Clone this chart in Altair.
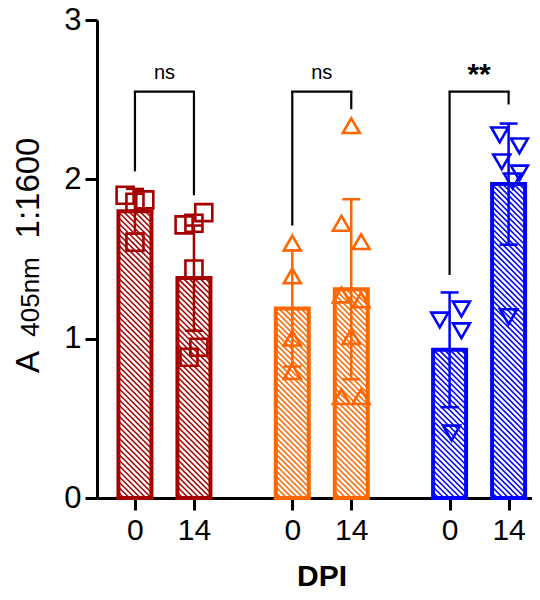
import altair as alt
import pandas as pd

# ---------------- data ----------------
groups = ["g1", "g2", "g3"]
dpi_labels = ["0", "14"]
colors = ["#A50000", "#FF6600", "#0000FF"]
shapes = ["square", "triangle-up", "triangle-down"]

# bar means and SD (per group, per DPI)
bar_means = [1.80, 1.38, 1.19, 1.31, 0.93, 1.97]
bar_sds = [0.14, 0.33, 0.365, 0.565, 0.36, 0.38]

# individual points
pts_g1_0 = [1.90, 1.856, 1.871, 1.605]
pts_g1_14 = [1.714, 1.724, 1.791, 1.437, 0.946, 0.883]
pts_g2_0 = [1.60, 1.394, 1.003, 0.793]
pts_g2_14 = [2.337, 1.724, 1.609, 1.274, 1.243, 1.013, 0.636, 0.636]
pts_g3_0 = [1.117, 1.186, 1.05, 0.408]
pts_g3_14 = [2.279, 2.21, 2.11, 2.04, 1.99, 1.138]

# horizontal scatter of the points (fraction of a symbol width)
spr_g1_0 = [-0.5, 0.0, 0.5, 0.0]
spr_g1_14 = [-0.5, 0.0, 0.5, 0.0, 0.25, -0.25]
spr_g2_0 = [0.0, 0.0, 0.0, 0.0]
spr_g2_14 = [0.0, -0.5, 0.5, -0.5, 0.5, 0.0, -0.5, 0.5]
spr_g3_0 = [-0.5, 0.6, 0.6, 0.1]
spr_g3_14 = [-0.45, 0.55, -0.35, 0.55, 0.2, 0.0]

# significance brackets
br_left_end = [2.05, 1.71, 1.40]
br_right_end = [1.90, 2.44, 2.47]
br_top = [2.55, 2.55, 2.55]
br_labels = ["ns", "ns", "**"]
br_label_y = [2.67, 2.67, 2.655]

# ---------------- layout constants ----------------
W, H = 435, 478
GSTEP, DSTEP = 8, 3
XMIN, XMAX = -1.93, 20.19
SY = H / 3.0
SX = W / (XMAX - XMIN)
HW = 16.5          # half bar width, px
DV = 5.5 / SY      # hatch spacing in y units
CAP = 18           # error bar cap width, px
FONT = "Liberation Sans"

rows = []
for gi, g in enumerate(groups):
    for di, d in enumerate(dpi_labels):
        k = gi * 2 + di
        rows.append(dict(group=g, gi=gi, di=di, mean=bar_means[k], sd=bar_sds[k]))
bars_df = pd.DataFrame(rows)

pt_sets = [
    (0, 0, pts_g1_0, spr_g1_0), (0, 1, pts_g1_14, spr_g1_14),
    (1, 0, pts_g2_0, spr_g2_0), (1, 1, pts_g2_14, spr_g2_14),
    (2, 0, pts_g3_0, spr_g3_0), (2, 1, pts_g3_14, spr_g3_14),
]
prow = []
for gi, di, vals, spr in pt_sets:
    for v, s in zip(vals, spr):
        prow.append(dict(group=groups[gi], gi=gi, di=di, value=v, spr=s))
pts_df = pd.DataFrame(prow)

br_df = pd.DataFrame(dict(gi=list(range(3)), lo_l=br_left_end, lo_r=br_right_end,
                          top=br_top, label=br_labels, ly=br_label_y))

xs = alt.Scale(domain=[XMIN, XMAX], nice=False, zero=False)
ys = alt.Scale(domain=[0, 3], nice=False, zero=False)
col = alt.Scale(domain=groups, range=colors)

x_axis = alt.Axis(values=[gi * GSTEP + di * DSTEP for gi in range(3) for di in range(2)],
                  labelExpr=f"datum.value % {GSTEP} == 0 ? '{dpi_labels[0]}' : '{dpi_labels[1]}'",
                  title=None, grid=False, tickSize=12, tickWidth=3, domainWidth=3,
                  domainColor="black", tickColor="black", labelColor="black",
                  labelFontSize=30, labelFont=FONT, labelPadding=5, labelFlush=False)
y_axis = alt.Axis(values=[0, 1, 2, 3], format="d", title=None, grid=False, tickSize=12,
                  tickWidth=3, domainWidth=3, domainColor="black", tickColor="black",
                  labelColor="black", labelFontSize=31, labelFont=FONT, labelPadding=4,
                  labelFlush=False)

posexpr = f"datum.gi * {GSTEP} + datum.di * {DSTEP}"
base = alt.Chart(bars_df).transform_calculate(pos=posexpr)

# white bar body with axes
bar_body = base.transform_calculate(
    xa=f"datum.pos - {HW / SX}", xb=f"datum.pos + {HW / SX}"
).mark_bar(fill="white", strokeWidth=0).encode(
    x=alt.X("xa:Q", scale=xs, axis=x_axis),
    x2="xb:Q",
    y=alt.Y("mean:Q", scale=ys, axis=y_axis),
    y2=alt.datum(0),
)

# hatch lines
hatch = base.transform_calculate(
    ks="sequence(0, 70)"
).transform_flatten(["ks"]).transform_calculate(
    xl=f"datum.pos - {HW / SX}",
    vL=f"datum.ks * {DV}",
).transform_calculate(
    vR=f"datum.vL - {2 * HW / SY}"
).transform_filter(
    "datum.vR < datum.mean && datum.vL > 0"
).transform_calculate(
    hx1=f"datum.vL > datum.mean ? datum.xl + (datum.vL - datum.mean) * {SY / SX} : datum.xl",
    hy1="min(datum.vL, datum.mean)",
    hx2=f"datum.vR < 0 ? datum.xl + datum.vL * {SY / SX} : datum.xl + {2 * HW / SX}",
    hy2="max(datum.vR, 0)",
).mark_rule(strokeWidth=1.6).encode(
    x=alt.X("hx1:Q", scale=xs), x2="hx2:Q",
    y=alt.Y("hy1:Q", scale=ys), y2="hy2:Q",
    color=alt.Color("group:N", scale=col, legend=None),
)

bar_outline = base.transform_calculate(
    xa=f"datum.pos - {HW / SX}", xb=f"datum.pos + {HW / SX}"
).mark_bar(fillOpacity=0, strokeWidth=4, strokeJoin="miter").encode(
    x=alt.X("xa:Q", scale=xs), x2="xb:Q",
    y=alt.Y("mean:Q", scale=ys), y2=alt.datum(0),
    stroke=alt.Stroke("group:N", scale=col, legend=None),
)

err = base.transform_calculate(
    lo="datum.mean - datum.sd", hi="datum.mean + datum.sd"
)
err_line = err.mark_rule(strokeWidth=2.5).encode(
    x=alt.X("pos:Q", scale=xs), y=alt.Y("lo:Q", scale=ys), y2="hi:Q",
    color=alt.Color("group:N", scale=col, legend=None),
)
cap_hi = err.transform_calculate(
    ca=f"datum.pos - {CAP / 2 / SX}", cb=f"datum.pos + {CAP / 2 / SX}"
).mark_rule(strokeWidth=2.5).encode(
    x=alt.X("ca:Q", scale=xs), x2="cb:Q", y=alt.Y("hi:Q", scale=ys),
    color=alt.Color("group:N", scale=col, legend=None),
)
cap_lo = err.transform_calculate(
    ca=f"datum.pos - {CAP / 2 / SX}", cb=f"datum.pos + {CAP / 2 / SX}"
).mark_rule(strokeWidth=2.5).encode(
    x=alt.X("ca:Q", scale=xs), x2="cb:Q", y=alt.Y("lo:Q", scale=ys),
    color=alt.Color("group:N", scale=col, legend=None),
)

points = alt.Chart(pts_df).transform_calculate(
    px=f"{posexpr} + datum.spr"
).mark_point(filled=False, size=290, strokeWidth=2.6, opacity=1).encode(
    x=alt.X("px:Q", scale=xs), y=alt.Y("value:Q", scale=ys),
    color=alt.Color("group:N", scale=col, legend=None),
    shape=alt.Shape("group:N", scale=alt.Scale(domain=groups, range=shapes), legend=None),
)

brb = alt.Chart(br_df).transform_calculate(
    xl=f"datum.gi * {GSTEP}", xr=f"datum.gi * {GSTEP} + {DSTEP}",
    xm=f"datum.gi * {GSTEP} + {DSTEP / 2}"
)
br_l = brb.mark_rule(strokeWidth=2.2, color="black").encode(
    x=alt.X("xl:Q", scale=xs), y=alt.Y("lo_l:Q", scale=ys), y2="top:Q")
br_r = brb.mark_rule(strokeWidth=2.2, color="black").encode(
    x=alt.X("xr:Q", scale=xs), y=alt.Y("lo_r:Q", scale=ys), y2="top:Q")
br_h = brb.mark_rule(strokeWidth=2.2, color="black", strokeCap="square").encode(
    x=alt.X("xl:Q", scale=xs), x2="xr:Q", y=alt.Y("top:Q", scale=ys))
br_ns = brb.transform_filter("datum.label == 'ns'").mark_text(
    fontSize=20, font=FONT, baseline="middle", color="black").encode(
    x=alt.X("xm:Q", scale=xs), y=alt.Y("ly:Q", scale=ys), text="label:N")
br_st = brb.transform_filter("datum.label != 'ns'").mark_text(
    fontSize=30, font=FONT, fontWeight="bold", baseline="middle", color="black").encode(
    x=alt.X("xm:Q", scale=xs), y=alt.Y("ly:Q", scale=ys), text="label:N")

# axis titles
x_title = alt.Chart(pd.DataFrame({"t": ["DPI"]})).mark_text(
    fontSize=30, font=FONT, fontWeight="bold", baseline="alphabetic", color="black"
).encode(x=alt.value(225), y=alt.value(566), text="t:N")

yt_a = alt.Chart(pd.DataFrame({"t": ["A"]})).mark_text(
    fontSize=33, font=FONT, angle=270, baseline="alphabetic", align="center", color="black"
).encode(x=alt.value(-58), y=alt.value(342), text="t:N")
yt_sub = alt.Chart(pd.DataFrame({"t": ["405nm"]})).mark_text(
    fontSize=26, font=FONT, angle=270, baseline="alphabetic", align="center", color="black"
).encode(x=alt.value(-58), y=alt.value(277), text="t:N")
yt_b = alt.Chart(pd.DataFrame({"t": ["1:1600"]})).mark_text(
    fontSize=33, font=FONT, angle=270, baseline="alphabetic", align="center", color="black"
).encode(x=alt.value(-58), y=alt.value(168), text="t:N")

chart = alt.layer(
    bar_body, hatch, bar_outline, err_line, cap_hi, cap_lo, points,
    br_l, br_r, br_h, br_ns, br_st, x_title, yt_a, yt_sub, yt_b
).properties(
    width=W, height=H,
    autosize=alt.AutoSizeParams(type="none"),
    padding={"left": 89, "top": 12, "right": 0, "bottom": 94},
).configure_view(stroke=None)

chart.save("out.html", embed_options={"renderer": "svg", "actions": False})
